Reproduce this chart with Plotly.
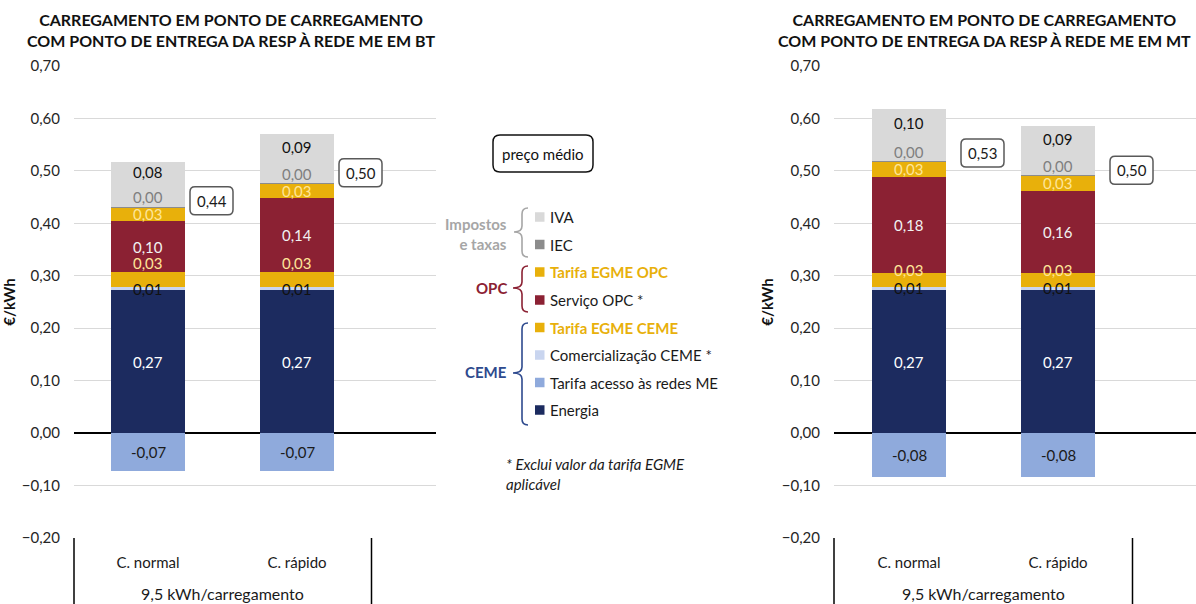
import plotly.graph_objects as go

W, H = 1196, 604
FONT = "Lato"

# ---------------- data ----------------
categories = ["C. normal", "C. rápido"]
group_label = "9,5 kWh/carregamento"

titles = [
    "CARREGAMENTO EM PONTO DE CARREGAMENTO<br>COM PONTO DE ENTREGA DA RESP À REDE ME EM BT",
    "CARREGAMENTO EM PONTO DE CARREGAMENTO<br>COM PONTO DE ENTREGA DA RESP À REDE ME EM MT",
]

components = [
    "Tarifa acesso às redes ME",
    "Energia",
    "Comercialização CEME *",
    "Tarifa EGME CEME",
    "Serviço OPC *",
    "Tarifa EGME OPC",
    "IEC",
    "IVA",
]

# BT (€/kWh), per category
bt_acesso = [-0.073, -0.073]
bt_energia = [0.272, 0.272]
bt_comerc = [0.0066, 0.0066]
bt_egme_ceme = [0.028, 0.028]
bt_servico_opc = [0.097, 0.141]
bt_egme_opc = [0.0275, 0.028]
bt_iec = [0.001, 0.001]
bt_iva = [0.084, 0.093]

# MT (€/kWh), per category
mt_acesso = [-0.0845, -0.0845]
mt_energia = [0.2725, 0.2725]
mt_comerc = [0.0066, 0.0066]
mt_egme_ceme = [0.027, 0.027]
mt_servico_opc = [0.183, 0.156]
mt_egme_opc = [0.0285, 0.0285]
mt_iec = [0.001, 0.001]
mt_iva = [0.100, 0.094]

panels = [
    [bt_acesso, bt_energia, bt_comerc, bt_egme_ceme, bt_servico_opc, bt_egme_opc, bt_iec, bt_iva],
    [mt_acesso, mt_energia, mt_comerc, mt_egme_ceme, mt_servico_opc, mt_egme_opc, mt_iec, mt_iva],
]

# ---------------- styles ----------------
colors = {
    "Tarifa acesso às redes ME": "#8faadc",
    "Energia": "#1c2b5f",
    "Comercialização CEME *": "#c9d5ef",
    "Tarifa EGME CEME": "#e8b00b",
    "Serviço OPC *": "#8b2133",
    "Tarifa EGME OPC": "#e8b00b",
    "IEC": "#8c8c8c",
    "IVA": "#d9d9d9",
}
label_colors = {
    "Tarifa acesso às redes ME": "#1a1a1a",
    "Energia": "#ffffff",
    "Comercialização CEME *": "#111111",
    "Tarifa EGME CEME": "#ffe699",
    "Serviço OPC *": "#f2f2f2",
    "Tarifa EGME OPC": "#ffe699",
    "IEC": "#7f7f7f",
    "IVA": "#111111",
}


def fmt(v):
    return f"{v:.2f}".replace(".", ",")


def px(x):
    return x / W


def py(y):
    return 1 - y / H


def paper_text(x, y, text, size=15, color="#1a1a1a", xanchor="center", yanchor="middle", align="center"):
    return dict(x=px(x), y=py(y), xref="paper", yref="paper", xanchor=xanchor, yanchor=yanchor,
                align=align, text=text, showarrow=False,
                font=dict(family=FONT, size=size, color=color))


# plot areas in pixels
plot_px = [(74, 436), (834, 1196)]
top_px, bottom_px = 66, 538
bar_step = 149.0
first_center = [148.0, 909.0]
yr = [-0.2, 0.7]

fig = go.Figure()
shapes = []
annotations = []

for p, comps in enumerate(panels):
    xa = "x" if p == 0 else "x2"
    ya = "y" if p == 0 else "y2"
    xs = [0, 1]
    for name, vals in zip(components, comps):
        fig.add_trace(go.Bar(
            x=xs, y=vals, name=name, xaxis=xa, yaxis=ya,
            marker=dict(color=colors[name], line=dict(width=0)),
            width=0.5, showlegend=False, hoverinfo="skip",
        ))

    # data labels
    egme_ceme_shift = 17 if p == 0 else 10
    for i in xs:
        pos_base = 0.0
        for name, vals in zip(components, comps):
            v = vals[i]
            if v < 0:
                yc, shift = v / 2, 0
            else:
                yc, shift = pos_base + v / 2, 0
                if name == "IVA":
                    shift = 12
                elif name == "IEC":
                    yc, shift = pos_base, 10
                elif name == "Tarifa EGME CEME":
                    shift = egme_ceme_shift
                pos_base += v
            annotations.append(dict(
                x=i, y=yc, xref=xa, yref=ya, yshift=shift, text=fmt(v),
                xanchor="center", yanchor="middle", showarrow=False,
                font=dict(family=FONT, size=15, color=label_colors[name]),
            ))
        # average price box to the right of the bar
        total = sum(vals[i] for vals in comps)
        off = 42 if p == 0 else 52
        bw, bh, r = 43, 28, 5
        x0, x1, y0, y1 = off, off + bw, -bh / 2, bh / 2
        path = (f"M {x0+r},{y0} L {x1-r},{y0} Q {x1},{y0} {x1},{y0+r} L {x1},{y1-r} "
                f"Q {x1},{y1} {x1-r},{y1} L {x0+r},{y1} Q {x0},{y1} {x0},{y1-r} "
                f"L {x0},{y0+r} Q {x0},{y0} {x0+r},{y0} Z")
        shapes.append(dict(
            type="path", path=path, xref=xa, yref=ya, xsizemode="pixel", ysizemode="pixel",
            xanchor=i, yanchor=total, line=dict(color="#595959", width=1.5),
            fillcolor="white", layer="above",
        ))
        annotations.append(dict(
            x=i, y=total, xref=xa, yref=ya, xshift=off + bw / 2, text=fmt(total),
            xanchor="center", yanchor="middle", showarrow=False,
            font=dict(family=FONT, size=15, color="#1a1a1a"),
        ))

    # axis ranges
    l, r_ = plot_px[p]
    x_lo = -(first_center[p] - l) / bar_step
    x_hi = x_lo + (r_ - l) / bar_step
    axis_x = dict(
        domain=[px(l), px(r_)], range=[x_lo, x_hi], tickvals=xs, ticktext=categories,
        ticks="", showgrid=False, zeroline=False, showline=False, fixedrange=True,
        tickfont=dict(family=FONT, size=15, color="#1a1a1a"), ticklabelstandoff=14,
        anchor=ya, automargin=False,
    )
    axis_y = dict(
        domain=[py(bottom_px), py(top_px)], range=yr, dtick=0.1, tick0=0, tickformat=".2f",
        showgrid=True, gridcolor="#d9d9d9", gridwidth=1.2,
        zeroline=True, zerolinecolor="#000000", zerolinewidth=1.5, showline=False,
        ticks="", ticklabelstandoff=13, fixedrange=True, automargin=False,
        tickfont=dict(family=FONT, size=15, color="#262626"),
        title=dict(text="<b>€/kWh</b>", font=dict(family=FONT, size=15, color="#111111"), standoff=4),
        anchor=xa,
    )
    if p == 0:
        fig.update_layout(xaxis=axis_x, yaxis=axis_y)
    else:
        fig.update_layout(xaxis2=axis_x, yaxis2=axis_y)

    # multi-level category frame lines
    sep_frac = (1.5 - x_lo) / (x_hi - x_lo)
    for f in (0.0, sep_frac):
        shapes.append(dict(
            type="line", xref=f"{xa} domain", yref="paper", x0=f, x1=f,
            y0=py(bottom_px), y1=0, line=dict(color="#000000", width=1.5),
        ))
    annotations.append(dict(
        x=0.5, y=py(593), xref=xa, yref="paper", text=group_label, showarrow=False,
        xanchor="center", yanchor="middle",
        font=dict(family=FONT, size=16, color="#1a1a1a"),
    ))

    # chart title
    title_cx = [231, 984][p]
    annotations.append(paper_text(title_cx, 30, f"<b>{titles[p]}</b>", size=16, color="#111111"))

# ---------------- custom legend ----------------
# "preço médio" key box
bx0, bx1, by0, by1, rr = 493, 593, 135, 172, 7
rx, ry = rr / W, rr / H
X0, X1, Y0, Y1 = px(bx0), px(bx1), py(by1), py(by0)
legend_box = (f"M {X0+rx},{Y0} L {X1-rx},{Y0} Q {X1},{Y0} {X1},{Y0+ry} L {X1},{Y1-ry} "
              f"Q {X1},{Y1} {X1-rx},{Y1} L {X0+rx},{Y1} Q {X0},{Y1} {X0},{Y1-ry} "
              f"L {X0},{Y0+ry} Q {X0},{Y0} {X0+rx},{Y0} Z")
shapes.append(dict(type="path", path=legend_box, xref="paper", yref="paper",
                   line=dict(color="#111111", width=1.5), fillcolor="white"))
annotations.append(paper_text((bx0 + bx1) / 2, (by0 + by1) / 2, "preço médio", color="#111111"))

legend_items = ["IVA", "IEC", "Tarifa EGME OPC", "Serviço OPC *", "Tarifa EGME CEME",
                "Comercialização CEME *", "Tarifa acesso às redes ME", "Energia"]
legend_y = [217, 244.5, 272, 300, 327.5, 355, 382.5, 410]
for name, ly in zip(legend_items, legend_y):
    shapes.append(dict(type="rect", xref="paper", yref="paper",
                       x0=px(535), x1=px(544.5), y0=py(ly + 4.75), y1=py(ly - 4.75),
                       fillcolor=colors[name], line=dict(width=0)))
    bold = name.startswith("Tarifa EGME")
    annotations.append(paper_text(548, ly, f"<b>{name}</b>" if bold else name,
                                  color="#e8b00b" if bold else "#1a1a1a",
                                  xanchor="left", align="left"))


def brace(xe, xt, yt, ym, yb, color):
    xm = xe - 6
    pts = [
        ("M", [(xe, yt)]),
        ("Q", [(xm, yt), (xm, yt + 6)]),
        ("L", [(xm, ym - 6)]),
        ("Q", [(xm, ym), (xt, ym)]),
        ("Q", [(xm, ym), (xm, ym + 6)]),
        ("L", [(xm, yb - 6)]),
        ("Q", [(xm, yb), (xe, yb)]),
    ]
    d = " ".join(cmd + " " + " ".join(f"{px(a)},{py(b)}" for a, b in c) for cmd, c in pts)
    return dict(type="path", path=d, xref="paper", yref="paper",
                line=dict(color=color, width=1.6))


shapes.append(brace(528, 514, 208, 232, 257, "#a6a6a6"))
shapes.append(brace(528, 513, 266, 288, 312, "#8b2133"))
shapes.append(brace(528, 513, 323, 373, 425, "#2e4a8e"))

group_texts = [("Impostos<br>e taxas", 234, "#a6a6a6"), ("OPC", 288, "#8b2133"), ("CEME", 372, "#2e4a8e")]
for txt, gy, gc in group_texts:
    annotations.append(paper_text(509, gy, f"<b>{txt}</b>", color=gc, xanchor="right", align="right"))

annotations.append(paper_text(504, 474, "<i>* Exclui valor da tarifa EGME<br>aplicável</i>",
                              xanchor="left", align="left"))

fig.update_layout(
    template="none",
    width=W, height=H, barmode="relative", bargap=0,
    margin=dict(l=0, r=0, t=0, b=0, pad=0), paper_bgcolor="white", plot_bgcolor="white",
    separators=",.", showlegend=False, shapes=shapes, annotations=annotations,
    font=dict(family=FONT),
)

fig.write_html("out.html")
